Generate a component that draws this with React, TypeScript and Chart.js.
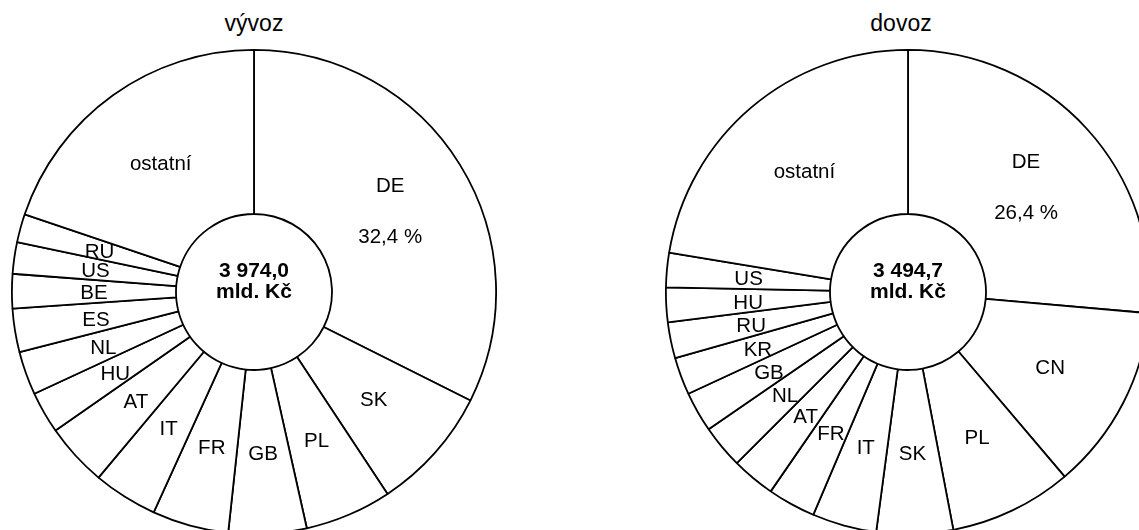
import { useEffect, useRef } from "react";
import { Chart, registerables } from "chart.js";
import type { ArcElement, Plugin } from "chart.js";

Chart.register(...registerables);

const FONT = '"Liberation Sans", Arial, sans-serif';

// vývoz - podíl zemí v %
const exportCountries = ["DE", "SK", "PL", "GB", "FR", "IT", "AT", "HU", "NL", "ES", "BE", "US", "RU", "ostatní"];
const exportShares = [32.4, 8.3, 5.8, 5.2, 5.1, 4.3, 4.2, 2.8, 2.9, 2.9, 2.3, 2.1, 1.9, 19.8];
const exportTotal = "3 974,0";

// dovoz - podíl zemí v %
const importCountries = ["DE", "CN", "PL", "SK", "IT", "FR", "AT", "NL", "GB", "KR", "RU", "HU", "US", "ostatní"];
const importShares = [26.4, 12.4, 8.2, 5.1, 4.3, 3.2, 2.9, 2.9, 2.7, 2.5, 2.4, 2.3, 2.3, 22.4];
const importTotal = "3 494,7";

const unitLabel = "mld. Kč";

const formatShare = (v: number) => v.toFixed(1).replace(".", ",") + " %";

const makeLabelPlugin = (total: string): Plugin<"doughnut"> => ({
  id: "sliceLabels",
  afterDatasetsDraw(chart) {
    const { ctx } = chart;
    const meta = chart.getDatasetMeta(0);
    const labels = chart.data.labels as string[];
    const values = chart.data.datasets[0].data as number[];

    ctx.save();
    ctx.fillStyle = "#000";
    ctx.textAlign = "center";
    ctx.textBaseline = "alphabetic";
    ctx.font = `20.5px ${FONT}`;
    meta.data.forEach((el, i) => {
      const { x, y } = (el as unknown as ArcElement).getCenterPoint();
      if (i === 0) {
        ctx.fillText(labels[i], x, y - 16);
        ctx.fillText(formatShare(values[i]), x, y + 35);
      } else {
        ctx.fillText(labels[i], x, y + 8);
      }
    });

    // součet uprostřed
    const c = meta.data[0] as unknown as ArcElement;
    ctx.font = `bold 21px ${FONT}`;
    ctx.fillText(total, c.x, c.y - 15);
    ctx.fillText(unitLabel, c.x, c.y + 6);
    ctx.restore();
  },
});

type DonutProps = {
  labels: string[];
  values: number[];
  total: string;
  left: number;
};

const DonutChart = ({ labels, values, total, left }: DonutProps) => {
  const canvasRef = useRef<HTMLCanvasElement>(null);

  useEffect(() => {
    if (!canvasRef.current) return;
    const chart = new Chart(canvasRef.current, {
      type: "doughnut",
      data: {
        labels,
        datasets: [
          {
            data: values,
            backgroundColor: "#ffffff",
            borderColor: "#000000",
            borderWidth: 1.8,
            hoverOffset: 0,
          },
        ],
      },
      options: {
        animation: false,
        responsive: true,
        maintainAspectRatio: false,
        cutout: 78,
        events: [],
        plugins: {
          legend: { display: false },
          tooltip: { enabled: false },
        },
      },
      plugins: [makeLabelPlugin(total)],
    });

    return () => chart.destroy();
  }, [labels, values, total]);

  return (
    <div style={{ position: "absolute", left, top: 49, width: 486, height: 486 }}>
      <canvas ref={canvasRef}></canvas>
    </div>
  );
};

const Title = ({ text, centerX }: { text: string; centerX: number }) => (
  <div
    style={{
      position: "absolute",
      left: centerX - 100,
      top: 12,
      width: 200,
      textAlign: "center",
      font: `23px ${FONT}`,
      lineHeight: "23px",
      color: "#000",
    }}
  >
    {text}
  </div>
);

export default function App() {
  return (
    <div
      style={{
        position: "fixed",
        left: 0,
        top: 0,
        width: 1139,
        height: 530,
        overflow: "hidden",
        background: "#fff",
      }}
    >
      <Title text="vývoz" centerX={254} />
      <Title text="dovoz" centerX={901} />
      <DonutChart labels={exportCountries} values={exportShares} total={exportTotal} left={11} />
      <DonutChart labels={importCountries} values={importShares} total={importTotal} left={665} />
    </div>
  );
}
